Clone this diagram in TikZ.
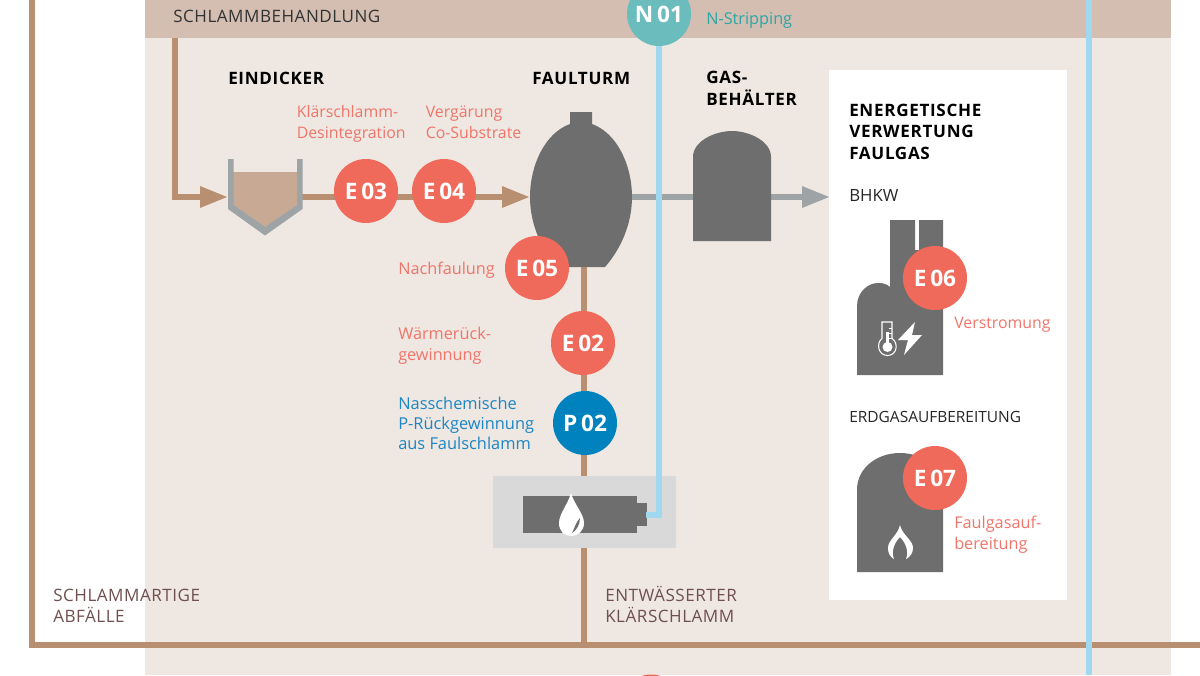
\documentclass[tikz,border=0pt]{standalone}
\usepackage{fontspec}
\setmainfont{Open Sans}
\newfontfamily\hdfont[LetterSpace=4]{Open Sans}
\newfontfamily\capfont[LetterSpace=3]{Open Sans}
\usetikzlibrary{arrows.meta}
\definecolor{panel}{HTML}{EFE7E1}
\definecolor{head}{HTML}{D4BDB1}
\definecolor{brown}{HTML}{B98F72}
\definecolor{sludge}{HTML}{C8AA94}
\definecolor{wall}{HTML}{9EA3A6}
\definecolor{tank}{HTML}{6E6E6E}
\definecolor{coral}{HTML}{EF6A5A}
\definecolor{coraltxt}{HTML}{F0756A}
\definecolor{pblue}{HTML}{0082BE}
\definecolor{pbluetxt}{HTML}{1C86C4}
\definecolor{teal}{HTML}{6BBCBC}
\definecolor{tealtxt}{HTML}{2BA6A6}
\definecolor{sky}{HTML}{A0D8F0}
\definecolor{boxg}{HTML}{D9D9D9}
\definecolor{wine}{HTML}{6E5050}
\tikzset{
  x=0.75pt,y=-0.75pt,
  pipe/.style={line width=4.5pt},
  brownpipe/.style={pipe,draw=brown},
  gaspipe/.style={pipe,draw=wall},
  waterpipe/.style={pipe,draw=sky},
  head tip/.style={-{Triangle[length=21pt,width=15pt]}},
  badge/.style={circle,minimum size=48pt,inner sep=0pt,text=white,font=\fontsize{17}{17}\selectfont\bfseries},
  lbl/.style={anchor=base west,inner sep=0pt,align=left,font=\fontsize{12.2}{15.5}\selectfont},
  slbl/.style={lbl,font=\fontsize{11.9}{15.2}\selectfont},
  caplbl/.style={lbl,font=\fontsize{12.8}{15.2}\selectfont\capfont},
  hd/.style={anchor=base west,inner sep=0pt,align=left,text=black,font=\fontsize{12.8}{16}\selectfont\hdfont\bfseries},
}
\begin{document}
\begin{tikzpicture}
\useasboundingbox (0,0) rectangle (1200,675);
\fill[white] (0,0) rectangle (1200,675);
\fill[panel] (145,0) rectangle (1171,675);
\fill[head] (145,0) rectangle (1171,38);
\fill[white] (829,70) rectangle (1067,600);

% free pipe ends
\coordinate (srcTop) at (32,0);
\coordinate (srcCorner) at (32,645);
\coordinate (exitR) at (1200,645);
\coordinate (feedTop) at (175,38);
\coordinate (feedCorner) at (175,197);
\coordinate (thickIn) at (228,197);
\coordinate (thickOut) at (300,197);
\coordinate (digestIn) at (530,197);
\coordinate (digestOut) at (630,197);
\coordinate (bhkwIn) at (830,197);
\coordinate (digestBottom) at (583.5,265);
\coordinate (pressTop) at (583.5,476);
\coordinate (pressBottom) at (583.5,548);
\coordinate (mainJoin) at (583.5,645);
\coordinate (waterOut) at (646,515);
\coordinate (waterCorner) at (659,515);
\coordinate (skyTop) at (1089,0);
\coordinate (skyBottom) at (1089,675);

% pipes
\draw[brownpipe] (srcTop) -- (srcCorner) -- (exitR);
\draw[brownpipe,head tip] (feedTop) -- (feedCorner) -- (thickIn);
\draw[brownpipe,head tip] (thickOut) -- (digestIn);
\draw[brownpipe] (digestBottom) -- (pressTop);
\draw[brownpipe] (pressBottom) -- (mainJoin);
\draw[gaspipe,head tip] (digestOut) -- (bhkwIn);
\draw[waterpipe] (skyTop) -- (skyBottom);

% thickener
\fill[sludge] (233,172) -- (297,172) -- (297,205) -- (265,228) -- (233,205) -- cycle;
\fill[wall] (228,159) -- (233.5,159) -- (233.5,205) -- (265,227) -- (297,205) -- (297,159) -- (302.5,159) -- (302.5,209) -- (265,235.5) -- (228,209) -- cycle;

% digester
\fill[tank] (570,112) -- (592,112) -- (592,124)
  .. controls (617,133) and (632,165) .. (632,197)
  .. controls (632,225) and (620,250) .. (605,267)
  -- (557,267)
  .. controls (542,250) and (530,225) .. (530,197)
  .. controls (530,165) and (545,133) .. (570,124) -- cycle;

% gas holder
\fill[tank] (693,241) -- (693,157) .. controls (693,141) and (715,131) .. (732,131)
  .. controls (749,131) and (771,141) .. (771,157) -- (771,241) -- cycle;

% dewatering
\fill[boxg] (493,476) rectangle (676,548);
\fill[tank] (523,496) rectangle (637,533);
\fill[tank] (637,503) rectangle (647,526);
\fill[white] (571,493) .. controls (574,504) and (584,514) .. (584,523)
  .. controls (584,531) and (578,536) .. (571,536)
  .. controls (564,536) and (559,531) .. (559,523)
  .. controls (559,514) and (568,504) .. (571,493) -- cycle;
\fill[tank] (580,518) .. controls (580,525) and (576,531) .. (572,533)
  .. controls (575,527) and (576,522) .. (580,518) -- cycle;

% water line from the press to the stripping stage
\draw[waterpipe] (waterOut) -- (waterCorner) -- (659,46);

% CHP building
\fill[tank] (857,375) -- (857,306) .. controls (857,292) and (868,283) .. (878,283)
  .. controls (883,283) and (887,284) .. (890,287) -- (890,220) -- (915,220) -- (915,250) -- (919,250) -- (919,220) -- (943,220) -- (943,375) -- cycle;
\draw[white,line width=0.8pt] (882,338.5) -- (882,322) -- (892,322) -- (892,338.5)
  .. controls (899,343) and (897,355.5) .. (887.5,355.5)
  .. controls (878,355.5) and (876,343) .. (882,338.5);
\fill[white] (887.5,347) circle[radius=5];
\draw[white,line width=1.6pt] (887.5,347) -- (887.5,332);
\draw[white,line width=0.6pt] (889,328) -- (892,328) (889,333) -- (892,333) (889,338) -- (892,338);
\fill[white] (915,322) -- (898,340) -- (908,340) -- (904,355) -- (922,335) -- (912,335) -- cycle;

% upgrading plant
\fill[tank] (857,572) -- (857,490) .. controls (857,467) and (878,453) .. (900,453)
  .. controls (922,453) and (943,467) .. (943,490) -- (943,572) -- cycle;
\fill[white] (900,525) .. controls (902,535) and (913,540) .. (913,548)
  .. controls (913,553) and (910,557) .. (906,559)
  .. controls (909,552) and (906,543) .. (900,537)
  .. controls (894,543) and (891,552) .. (894,559)
  .. controls (890,557) and (888,553) .. (888,548)
  .. controls (888,540) and (898,535) .. (900,525) -- cycle;

% badges
\node[badge,fill=teal] (N01) at (659,14) {N\,01};
\node[badge,fill=coral] (E03) at (366,191) {E\,03};
\node[badge,fill=coral] (E04) at (444,191) {E\,04};
\node[badge,fill=coral] (E05) at (537,268) {E\,05};
\node[badge,fill=coral] (E02) at (583,343) {E\,02};
\node[badge,fill=pblue] (P02) at (585,423) {P\,02};
\node[badge,fill=coral] (E06) at (935,278) {E\,06};
\node[badge,fill=coral] (E07) at (935,478) {E\,07};
\node[badge,fill=coral] (E08) at (651,706.5) {};

% labels (multi-line nodes are placed by their last baseline)
\node[caplbl,text=black!80] (tSB) at (173,22) {SCHLAMMBEHANDLUNG};
\node[hd] (tEI) at (228,84) {EINDICKER};
\node[hd] (tFT) at (532,84) {FAULTURM};
\node[hd] (tGB) at (706,105) {GAS-\\BEHÄLTER};
\node[hd] (tEV) at (849,159) {ENERGETISCHE\\VERWERTUNG\\FAULGAS};
\node[lbl,text=tealtxt] (tNS) at (706,24) {N-Stripping};
\node[slbl,text=coraltxt] (tKD) at (296.5,138) {Klärschlamm-\\Desintegration};
\node[slbl,text=coraltxt] (tVC) at (425.5,138) {Vergärung\\Co-Substrate};
\node[lbl,text=coraltxt] (tNF) at (398,274) {Nachfaulung};
\node[lbl,text=coraltxt] (tWR) at (398,360) {Wärmerück-\\gewinnung};
\node[lbl,font=\fontsize{12.3}{15}\selectfont,text=pbluetxt] (tNC) at (398,449) {Nasschemische\\P-Rückgewinnung\\aus Faulschlamm};
\node[slbl,text=coraltxt] (tVS) at (954,328) {Verstromung};
\node[lbl,text=coraltxt] (tFA) at (954,549) {Faulgasauf-\\bereitung};
\node[lbl,font=\fontsize{12.6}{15}\selectfont,text=black!85] (tBH) at (849,201) {BHKW};
\node[lbl,font=\fontsize{11.6}{15}\selectfont,text=black!85] (tEA) at (849,422) {ERDGASAUFBEREITUNG};
\node[caplbl,text=wine] (tSA) at (53,622) {SCHLAMMARTIGE\\ABFÄLLE};
\node[caplbl,text=wine] (tEK) at (605,622) {ENTWÄSSERTER\\KLÄRSCHLAMM};
\end{tikzpicture}
\end{document}
